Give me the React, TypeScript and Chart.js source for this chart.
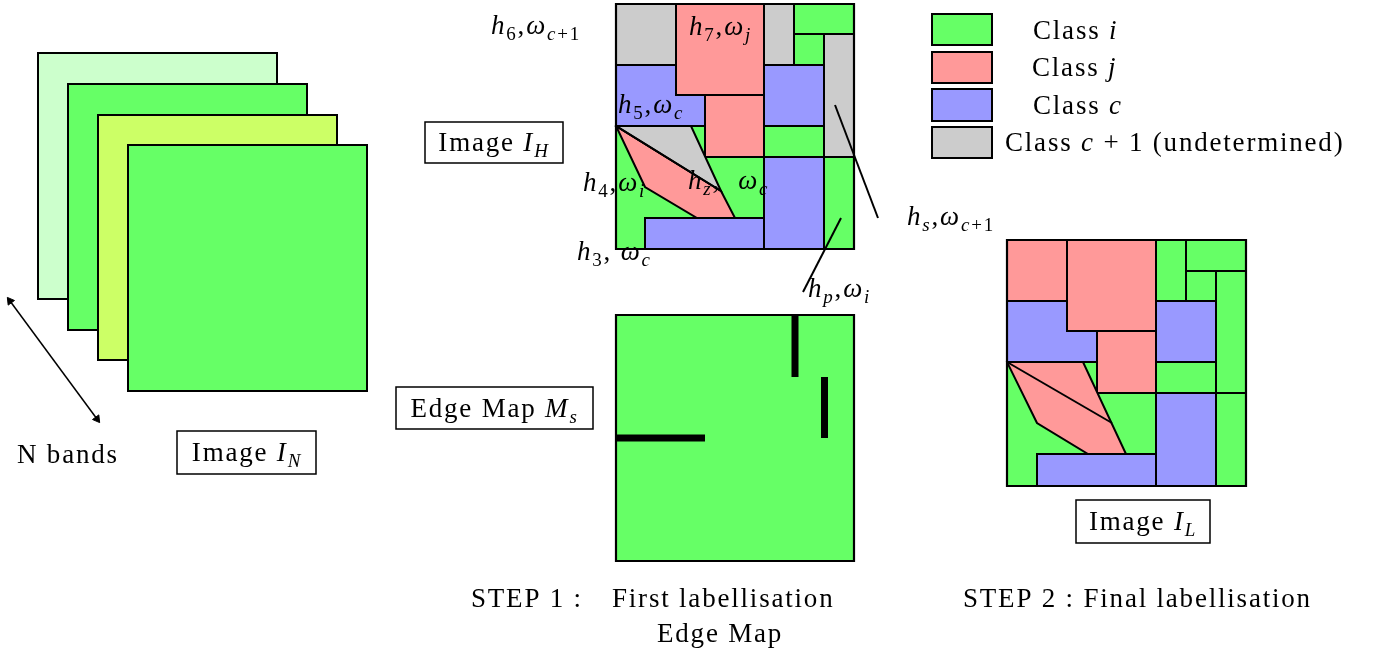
import React, { useEffect, useRef } from 'react';
import { Chart, registerables } from 'chart.js';

Chart.register(...registerables);

const W = 1374;
const H = 654;

const GREEN = '#66ff66';
const PINK = '#ff9999';
const BLUE = '#9999ff';
const GRAY = '#cccccc';
const LIGHT = '#ccffcc';
const LIME = '#ccff66';

type Pt = [number, number];
type Box = [number, number, number, number];

// ---- Image I_N (stack of bands) ----
const bandRects: Box[] = [
  [38, 53, 277, 299],
  [68, 84, 307, 330],
  [98, 115, 337, 360],
  [128, 145, 367, 391],
];
const bandColors = [LIGHT, GREEN, LIME, GREEN];
const bandArrow: Pt[] = [[10, 301], [97, 419]];

// ---- Image I_H (first labellisation) ----
const ihFrame: Box = [616, 4, 854, 249];
const ihGreenRects: Box[] = [[616, 126, 764, 249], [794, 4, 854, 34], [794, 34, 824, 65], [764, 126, 824, 157], [824, 157, 854, 249]];
const ihPinkRects: Box[] = [[676, 4, 764, 95], [705, 95, 764, 157]];
const ihGrayRects: Box[] = [[616, 4, 676, 65], [764, 4, 794, 65], [824, 34, 854, 157]];
const ihBlueRects: Box[] = [[764, 65, 824, 126], [645, 218, 764, 249], [764, 157, 824, 249]];
const ihBlueL: Pt[] = [[616, 65], [676, 65], [676, 95], [705, 95], [705, 126], [616, 126]];
const ihPinkPoly: Pt[] = [[616, 126], [645, 187], [697, 218], [735, 218], [721, 191]];
const ihGrayPoly: Pt[] = [[616, 126], [691, 126], [721, 191]];
const ihDiag: Pt[] = [[616, 126], [721, 191]];
const leaderLines: Pt[][] = [[[835, 105], [878, 218]], [[841, 218], [803, 292]]];

// ---- Edge map M_s ----
const emFrame: Box = [616, 315, 854, 561];
const emEdges: Pt[][] = [[[795, 315], [795, 377]], [[824.5, 377], [824.5, 438]], [[616, 438], [705, 438]]];

// ---- Image I_L (final labellisation) ----
const ilFrame: Box = [1007, 240, 1246, 486];
const ilGreenRects: Box[] = [[1007, 362, 1156, 486], [1156, 240, 1186, 301], [1186, 240, 1246, 271], [1186, 271, 1216, 301], [1216, 271, 1246, 393], [1156, 362, 1216, 393], [1216, 393, 1246, 486]];
const ilPinkRects: Box[] = [[1007, 240, 1067, 301], [1067, 240, 1156, 331], [1097, 331, 1156, 393]];
const ilBlueRects: Box[] = [[1156, 301, 1216, 362], [1037, 454, 1156, 486], [1156, 393, 1216, 486]];
const ilBlueL: Pt[] = [[1007, 301], [1067, 301], [1067, 331], [1097, 331], [1097, 362], [1007, 362]];
const ilPinkPoly: Pt[] = [[1007, 362], [1083, 362], [1126, 454], [1088, 454], [1037, 423]];
const ilDiag: Pt[] = [[1007, 362], [1112, 423]];

// ---- Legend ----
const legendSwatches: Box[] = [[932, 14, 992, 45], [932, 52, 992, 83], [932, 89, 992, 121], [932, 127, 992, 158]];
const legendColors = [GREEN, PINK, BLUE, GRAY];

// ---- Caption boxes ----
const captionBoxes: Box[] = [[425, 122, 563, 163], [177, 431, 316, 474], [396, 387, 593, 429], [1076, 500, 1210, 543]];

// ---- Text (runs: [text, style]; style: '' roman, 'i' italic, 's' subscript, 'si' italic subscript) ----
type Run = [string, string];
const legendTexts: Run[][] = [
  [['Class ', ''], ['i', 'i']],
  [['Class ', ''], ['j', 'i']],
  [['Class ', ''], ['c', 'i']],
  [['Class ', ''], ['c', 'i'], [' + 1 (undetermined)', '']],
];
const captionTexts: Run[][] = [
  [['Image ', ''], ['I', 'i'], ['H', 'si']],
  [['Image ', ''], ['I', 'i'], ['N', 'si']],
  [['Edge Map ', ''], ['M', 'i'], ['s', 'si']],
  [['Image ', ''], ['I', 'i'], ['L', 'si']],
];
const regionTexts: Run[][] = [
  [['h', 'i'], ['6', 's'], [',', ''], ['ω', 'i'], ['c', 'si'], ['+1', 's']],
  [['h', 'i'], ['7', 's'], [',', ''], ['ω', 'i'], ['j', 'si']],
  [['h', 'i'], ['5', 's'], [',', ''], ['ω', 'i'], ['c', 'si']],
  [['h', 'i'], ['4', 's'], [',', ''], ['ω', 'i'], ['i', 'si']],
  [['h', 'i'], ['z', 'si'], [',  ', ''], ['ω', 'i'], ['c', 'si']],
  [['h', 'i'], ['3', 's'], [', ', ''], ['ω', 'i'], ['c', 'si']],
  [['h', 'i'], ['p', 'si'], [',', ''], ['ω', 'i'], ['i', 'si']],
  [['h', 'i'], ['s', 'si'], [',', ''], ['ω', 'i'], ['c', 'si'], ['+1', 's']],
];
const stepTexts: Run[][] = [
  [['STEP 1 :', '']],
  [['First labellisation', '']],
  [['Edge Map', '']],
  [['STEP 2 : Final labellisation', '']],
  [['N bands', '']],
];

// layout of the texts: [x, baseline y, align]
type Place = [number, number, 'left' | 'center'];
const legendPlaces: Place[] = [[1033, 39, 'left'], [1032, 76, 'left'], [1033, 114, 'left'], [1005, 151, 'left']];
const captionPlaces: Place[] = [[494, 151, 'center'], [247, 461, 'center'], [494.5, 417, 'center'], [1143, 530, 'center']];
const regionPlaces: Place[] = [[491, 34, 'left'], [689, 35, 'left'], [618, 113, 'left'], [583, 191, 'left'], [688, 189, 'left'], [577, 260, 'left'], [808, 297, 'left'], [907, 225, 'left']];
const stepPlaces: Place[] = [[471, 607, 'left'], [612, 607, 'left'], [657, 642, 'left'], [963, 607, 'left'], [17, 463, 'left']];

const MAIN = 27;
const SUB = 19;
const FONT = '"Liberation Serif", "DejaVu Serif", serif';

const corners = (b: Box): Pt[] => [[b[0], b[1]], [b[2], b[1]], [b[2], b[3]], [b[0], b[3]]];

function shape(points: Pt[], fillColor: string | null, width = 2, close = true): any {
  const data = points.map(([x, y]) => ({ x, y }));
  if (close) data.push({ x: points[0][0], y: points[0][1] });
  return {
    data,
    fill: fillColor ? 'shape' : false,
    backgroundColor: fillColor ?? 'rgba(0,0,0,0)',
    borderColor: '#000',
    borderWidth: width,
    borderJoinStyle: 'miter',
    borderCapStyle: close ? 'square' : 'butt',
    pointRadius: 0,
    tension: 0,
  };
}

const textPlugin = {
  id: 'diagramTexts',
  afterDatasetsDraw(chart: any) {
    const { ctx } = chart;
    const xs = chart.scales.x;
    const ys = chart.scales.y;
    const groups: [Run[][], Place[]][] = [
      [legendTexts, legendPlaces],
      [captionTexts, captionPlaces],
      [regionTexts, regionPlaces],
      [stepTexts, stepPlaces],
    ];
    ctx.save();
    ctx.fillStyle = '#000';
    ctx.textBaseline = 'alphabetic';
    ctx.textAlign = 'left';
    try { (ctx as any).letterSpacing = '1.8px'; } catch (e) { /* ignore */ }
    const fontFor = (st: string) => `${st.includes('i') ? 'italic ' : ''}${st.includes('s') ? SUB : MAIN}px ${FONT}`;
    for (const [texts, places] of groups) {
      texts.forEach((runs, k) => {
        const [lx, ly, align] = places[k];
        let total = 0;
        for (const [t, st] of runs) {
          ctx.font = fontFor(st);
          total += ctx.measureText(t).width;
        }
        let px = xs.getPixelForValue(lx) - (align === 'center' ? total / 2 : 0);
        const py = ys.getPixelForValue(ly);
        for (const [t, st] of runs) {
          ctx.font = fontFor(st);
          ctx.fillText(t, px, py + (st.includes('s') ? 6 : 0));
          px += ctx.measureText(t).width;
        }
      });
    }
    ctx.restore();
  },
};

export default function App() {
  const ref = useRef<HTMLCanvasElement | null>(null);
  useEffect(() => {
    if (!ref.current) return;
    const ds: any[] = [];
    // bands
    bandRects.forEach((b, i) => ds.push(shape(corners(b), bandColors[i])));
    const arrow = shape(bandArrow, null, 1.5, false);
    const ang = (a: Pt, b: Pt) => (Math.atan2(b[0] - a[0], -(b[1] - a[1])) * 180) / Math.PI;
    arrow.pointStyle = 'triangle';
    arrow.pointRadius = 4.5;
    arrow.pointBackgroundColor = '#000';
    arrow.pointBorderColor = '#000';
    arrow.pointBorderWidth = 1;
    arrow.pointRotation = [ang(bandArrow[1], bandArrow[0]), ang(bandArrow[0], bandArrow[1])];
    ds.push(arrow);
    // I_H
    ihGreenRects.forEach((b) => ds.push(shape(corners(b), GREEN)));
    ihPinkRects.forEach((b) => ds.push(shape(corners(b), PINK)));
    ihGrayRects.forEach((b) => ds.push(shape(corners(b), GRAY)));
    ihBlueRects.forEach((b) => ds.push(shape(corners(b), BLUE)));
    ds.push(shape(ihBlueL, BLUE));
    ds.push(shape(ihPinkPoly, PINK));
    ds.push(shape(ihGrayPoly, GRAY));
    ds.push(shape(ihDiag, null, 2, false));
    ds.push(shape(corners(ihFrame), null, 2.2));
    leaderLines.forEach((l) => ds.push(shape(l, null, 2, false)));
    // edge map
    ds.push(shape(corners(emFrame), GREEN, 2.2));
    emEdges.forEach((l) => ds.push(shape(l, null, 7, false)));
    // I_L
    ilGreenRects.forEach((b) => ds.push(shape(corners(b), GREEN)));
    ilPinkRects.forEach((b) => ds.push(shape(corners(b), PINK)));
    ilBlueRects.forEach((b) => ds.push(shape(corners(b), BLUE)));
    ds.push(shape(ilBlueL, BLUE));
    ds.push(shape(ilPinkPoly, PINK));
    ds.push(shape(ilDiag, null, 2, false));
    ds.push(shape(corners(ilFrame), null, 2.2));
    // legend
    legendSwatches.forEach((b, i) => ds.push(shape(corners(b), legendColors[i])));
    // caption boxes
    captionBoxes.forEach((b) => ds.push(shape(corners(b), '#ffffff', 1.5)));
    ds.forEach((d, i) => { d.order = -i; });

    const chart = new Chart(ref.current, {
      type: 'line',
      data: { datasets: ds },
      options: {
        animation: false,
        responsive: false,
        maintainAspectRatio: false,
        events: [],
        layout: { padding: 0, autoPadding: false },
        plugins: { legend: { display: false }, tooltip: { enabled: false } },
        elements: { point: { radius: 0 }, line: { tension: 0 } },
        scales: {
          x: { type: 'linear', min: 0, max: W, display: false },
          y: { type: 'linear', min: 0, max: H, reverse: true, display: false },
        },
      } as any,
      plugins: [textPlugin],
    } as any);
    return () => chart.destroy();
  }, []);
  return (
    <div style={{ position: 'absolute', left: 0, top: 0, width: W, height: H, background: '#fff' }}>
      <canvas ref={ref} width={W} height={H} style={{ display: 'block' }} />
    </div>
  );
}
